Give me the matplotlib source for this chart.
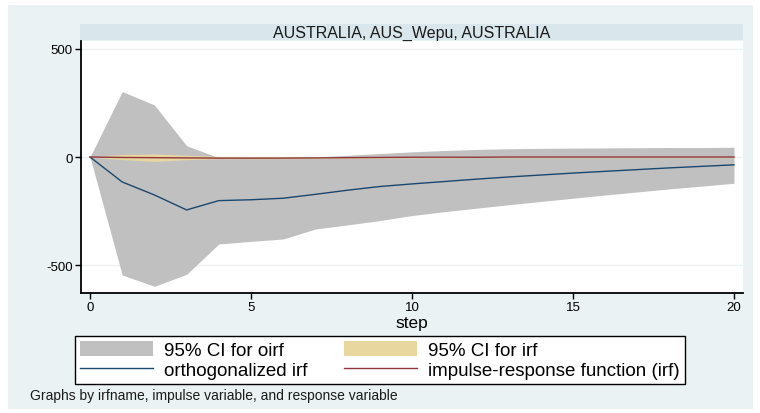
import numpy as np
import matplotlib
matplotlib.use("Agg")
import matplotlib.pyplot as plt
from matplotlib.patches import Patch, Rectangle
from matplotlib.lines import Line2D

# --- DATA ---
steps = list(range(21))
oirf = [0, -115, -175, -244, -201, -197, -190, -172, -153, -136, -124,
        -113, -102, -92, -83, -74, -66, -58, -50, -43, -36]
oirf_lo = [0, -544, -596, -541, -401, -389, -378, -332, -313, -293, -270,
           -252, -236, -220, -205, -190, -175, -161, -147, -134, -121]
oirf_hi = [0, 302, 240, 52, -3, -3, -2, 0, 8, 16, 24,
           30, 35, 38, 40, 41, 42, 43, 44, 44, 45]
irf = [0, -2, -3, -4, -5, -5, -5, -4, -3, -2, -1,
       -1, -1, 0, 0, 0, 0, 0, 0, 0, 0]
irf_lo = [0, -12, -20, -12, -8, -8, -8, -7, -6, -5, -4,
          -4, -3, -3, -3, -3, -3, -3, -3, -3, -3]
irf_hi = [0, 12, 14, 8, 3, 2, 2, 2, 2, 2, 2,
          2, 2, 2, 2, 2, 2, 2, 2, 2, 2]

TITLE = "AUSTRALIA, AUS_Wepu, AUSTRALIA"
NOTE = "Graphs by irfname, impulse variable, and response variable"

# --- COLOURS (Stata s2color) ---
BG = "#eaf2f3"
BAND = "#d9e6eb"
GRAY = "#c0c0c0"
SAND = "#e8d8a0"
NAVY = "#1a476f"
MAROON = "#90353b"

plt.rcParams["font.family"] = ["Liberation Sans", "DejaVu Sans"]
plt.rcParams["axes.unicode_minus"] = False

fig = plt.figure(figsize=(7.6, 4.14), dpi=100)
fig.patch.set_facecolor("white")
fig.add_artist(Rectangle((8 / 760, 4 / 414), 745 / 760, 404 / 414,
                         transform=fig.transFigure, facecolor=BG,
                         edgecolor="none", zorder=-10))

# title band
fig.add_artist(Rectangle((80 / 760, 1 - 41 / 414), 663 / 760, 16 / 414,
                         transform=fig.transFigure, facecolor=BAND,
                         edgecolor="none", zorder=-5))
fig.text(412 / 760, 1 - 33 / 414, TITLE, ha="center", va="center",
         fontsize=11.5, color="#1a1a1a")

ax = fig.add_axes([81 / 760, 1 - 294 / 414, 662 / 760, 252 / 414])
ax.set_facecolor("white")

ax.fill_between(steps, oirf_lo, oirf_hi, color=GRAY, linewidth=0, zorder=2)
ax.fill_between(steps, irf_lo, irf_hi, color=SAND, linewidth=0, zorder=3)
ax.plot(steps, oirf, color=NAVY, linewidth=1, zorder=4)
ax.plot(steps, irf, color=MAROON, linewidth=1, zorder=5)

ax.set_xlim(-0.28, 20.28)
ax.set_ylim(-627, 535)
ax.set_xticks([0, 5, 10, 15, 20])
ax.set_yticks([-500, 0, 500])
ax.yaxis.grid(True, color=BG, linewidth=1, zorder=1)
ax.set_axisbelow(True)

for side in ["top", "right"]:
    ax.spines[side].set_visible(False)
for side in ["left", "bottom"]:
    ax.spines[side].set_linewidth(1.3)
    ax.spines[side].set_color("black")

ax.tick_params(axis="both", labelsize=9.5, length=4, width=1, colors="black",
               pad=2)
ax.set_xlabel("step", fontsize=12.5, labelpad=1)

handles = [
    Patch(facecolor=GRAY, edgecolor="none"),
    Line2D([], [], color=NAVY, linewidth=1),
    Patch(facecolor=SAND, edgecolor="none"),
    Line2D([], [], color=MAROON, linewidth=1),
]
labels = ["95% CI for oirf", "orthogonalized irf",
          "95% CI for irf", "impulse-response function (irf)"]
leg = fig.legend(handles, labels, ncol=2, loc="upper left",
                 bbox_to_anchor=(75 / 760, 1 - 337 / 414),
                 fontsize=13.5, frameon=True, fancybox=False,
                 edgecolor="black", facecolor="white", framealpha=1,
                 handlelength=3.9, handleheight=0.9, handletextpad=0.6,
                 columnspacing=1.95, labelspacing=0.1, borderpad=0.25,
                 borderaxespad=0)
leg.get_frame().set_linewidth(1)

fig.text(30 / 760, 1 - 396 / 414, NOTE, ha="left", va="center",
         fontsize=10, color="#1a1a1a")

fig.savefig("out.png", dpi=100, facecolor=fig.get_facecolor())
